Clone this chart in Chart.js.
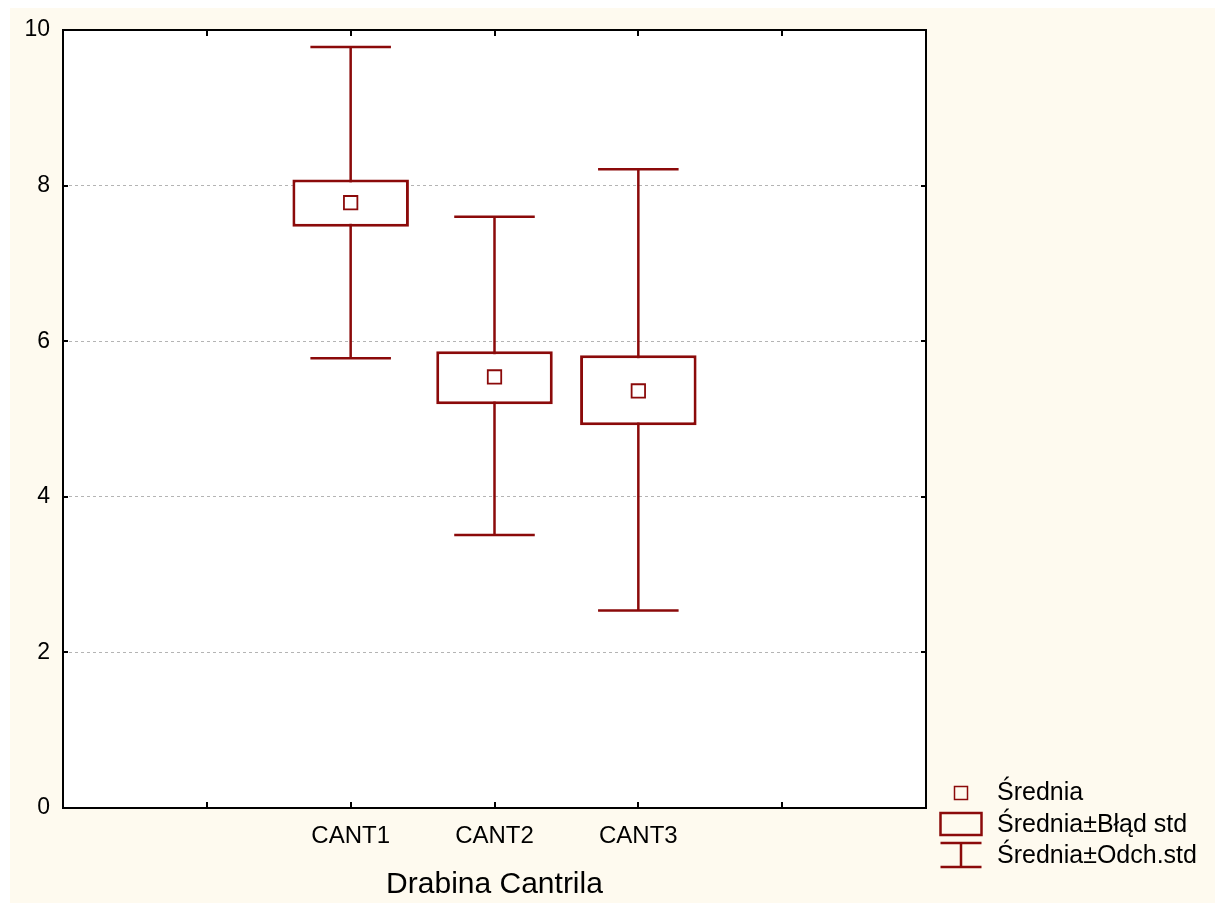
<!DOCTYPE html>
<html>
<head>
<meta charset="utf-8">
<script src="https://cdn.jsdelivr.net/npm/chart.js@4.4.0/dist/chart.umd.min.js"></script>
<style>
  html, body { margin: 0; padding: 0; background: #ffffff; }
  canvas { display: block; }
</style>
</head>
<body>
<canvas id="c" width="1215" height="903"></canvas>
<script>
// ---- Data ----
const categories = ['CANT1', 'CANT2', 'CANT3'];
const means  = [7.78, 5.54, 5.36];
const seLow  = [7.47, 5.19, 4.92];
const seHigh = [8.08, 5.87, 5.82];
const sdLow  = [5.78, 3.51, 2.54];
const sdHigh = [9.78, 7.60, 8.21];
const yTicks = [0, 2, 4, 6, 8, 10];
const legendLabels = ['Średnia', 'Średnia±Błąd std', 'Średnia±Odch.std'];
const xTitle = 'Drabina Cantrila';

// axis slots: two empty slots before and after the categories
const axisLabels = ['', '', ...categories, '', ''];
const offsetIdx = 2;
const pad = arr => [null, null, ...arr, null, null];

const RED = '#8b0a0a';
const CREAM = '#fefaef';
const FONT = "'Liberation Sans', Arial, sans-serif";

const backgroundPlugin = {
  id: 'bg',
  beforeDraw(chart) {
    const ctx = chart.ctx, a = chart.chartArea;
    ctx.save();
    ctx.fillStyle = CREAM;
    ctx.fillRect(10, 8, chart.width - 10, chart.height - 8);
    ctx.fillStyle = '#ffffff';
    ctx.fillRect(a.left, a.top, a.right - a.left, a.bottom - a.top);
    ctx.restore();
  }
};

const whiskerPlugin = {
  id: 'whiskers',
  beforeDatasetsDraw(chart) {
    const ctx = chart.ctx, xs = chart.scales.x, ys = chart.scales.y;
    const slot = xs.getPixelForValue(1) - xs.getPixelForValue(0);
    const half = slot * 0.28;
    ctx.save();
    ctx.strokeStyle = RED;
    ctx.lineWidth = 2.5;
    categories.forEach((c, i) => {
      const x = xs.getPixelForValue(i + offsetIdx);
      const y1 = ys.getPixelForValue(sdLow[i]);
      const y2 = ys.getPixelForValue(sdHigh[i]);
      ctx.beginPath();
      ctx.moveTo(x, y1); ctx.lineTo(x, y2);
      ctx.moveTo(x - half, y1); ctx.lineTo(x + half, y1);
      ctx.moveTo(x - half, y2); ctx.lineTo(x + half, y2);
      ctx.stroke();
    });
    ctx.restore();
  }
};

const framePlugin = {
  id: 'frame',
  afterDatasetsDraw(chart) {
    const ctx = chart.ctx, a = chart.chartArea, xs = chart.scales.x, ys = chart.scales.y;
    ctx.save();
    ctx.strokeStyle = '#000000';
    ctx.lineWidth = 2;
    ctx.strokeRect(a.left, a.top, a.right - a.left, a.bottom - a.top);
    ctx.beginPath();
    for (let i = 1; i < axisLabels.length - 1; i++) {
      const x = Math.round(xs.getPixelForValue(i));
      ctx.moveTo(x, a.bottom); ctx.lineTo(x, a.bottom - 6);
      ctx.moveTo(x, a.top); ctx.lineTo(x, a.top + 6);
    }
    yTicks.forEach(v => {
      const y = Math.round(ys.getPixelForValue(v));
      ctx.moveTo(a.left, y); ctx.lineTo(a.left + 5, y);
      ctx.moveTo(a.right, y); ctx.lineTo(a.right - 5, y);
    });
    ctx.stroke();
    ctx.restore();
  }
};

const legendPlugin = {
  id: 'customLegend',
  afterDraw(chart) {
    const ctx = chart.ctx, a = chart.chartArea;
    const ix = a.right + 35;      // icon center
    const tx = a.right + 71;      // text start
    const rows = [793, 825, 856];
    ctx.save();
    ctx.strokeStyle = RED;
    // mean marker
    ctx.lineWidth = 1.5;
    ctx.strokeRect(ix - 6.5, rows[0] - 6.5, 13, 13);
    // box icon
    ctx.lineWidth = 2.5;
    ctx.strokeRect(ix - 20.5, rows[1] - 12, 41, 22);
    // whisker icon
    ctx.beginPath();
    ctx.moveTo(ix - 20.5, rows[2] - 13); ctx.lineTo(ix + 20.5, rows[2] - 13);
    ctx.moveTo(ix - 20.5, rows[2] + 11); ctx.lineTo(ix + 20.5, rows[2] + 11);
    ctx.moveTo(ix, rows[2] - 13); ctx.lineTo(ix, rows[2] + 11);
    ctx.stroke();
    ctx.fillStyle = '#000000';
    ctx.font = '25px ' + FONT;
    ctx.textBaseline = 'middle';
    ctx.textAlign = 'left';
    legendLabels.forEach((t, i) => ctx.fillText(t, tx, rows[i]));
    ctx.restore();
  }
};

new Chart(document.getElementById('c'), {
  data: {
    labels: axisLabels,
    datasets: [
      {
        type: 'bar',
        label: legendLabels[1],
        data: pad(categories.map((c, i) => [seLow[i], seHigh[i]])),
        backgroundColor: '#ffffff',
        borderColor: RED,
        borderWidth: 3,
        borderSkipped: false,
        categoryPercentage: 1,
        barPercentage: 0.81,
        order: 2
      },
      {
        type: 'line',
        label: legendLabels[0],
        data: pad(means),
        showLine: false,
        pointStyle: 'rect',
        pointRadius: 9.5,
        pointHoverRadius: 9.5,
        pointBackgroundColor: '#ffffff',
        pointBorderColor: RED,
        pointBorderWidth: 1.8,
        order: 1
      }
    ]
  },
  options: {
    responsive: false,
    animation: false,
    events: [],
    layout: { padding: { left: 0, top: 30, right: 289, bottom: 0 } },
    plugins: { legend: { display: false }, tooltip: { enabled: false } },
    scales: {
      x: {
        type: 'category',
        offset: false,
        grid: { display: false, drawTicks: false },
        border: { display: false },
        ticks: {
          color: '#000000',
          font: { family: FONT, size: 24 },
          padding: 14,
          autoSkip: false,
          maxRotation: 0
        },
        title: {
          display: true,
          text: xTitle,
          color: '#000000',
          font: { family: FONT, size: 30 },
          padding: { top: 0, bottom: 0 }
        },
        afterFit(scale) { scale.height = 95; }
      },
      y: {
        type: 'linear',
        min: 0,
        max: 10,
        afterBuildTicks(scale) { scale.ticks = yTicks.map(v => ({ value: v })); },
        grid: {
          drawTicks: false,
          color: ctx => (ctx.tick && (ctx.tick.value === 0 || ctx.tick.value === 10)) ? 'rgba(0,0,0,0)' : '#b4b4b4',
          lineWidth: 1
        },
        border: { display: false, dash: [3, 3] },
        ticks: {
          color: '#000000',
          font: { family: FONT, size: 23 },
          padding: 13
        },
        afterFit(scale) { scale.width = 63; }
      }
    }
  },
  plugins: [backgroundPlugin, whiskerPlugin, framePlugin, legendPlugin]
});
</script>
</body>
</html>
